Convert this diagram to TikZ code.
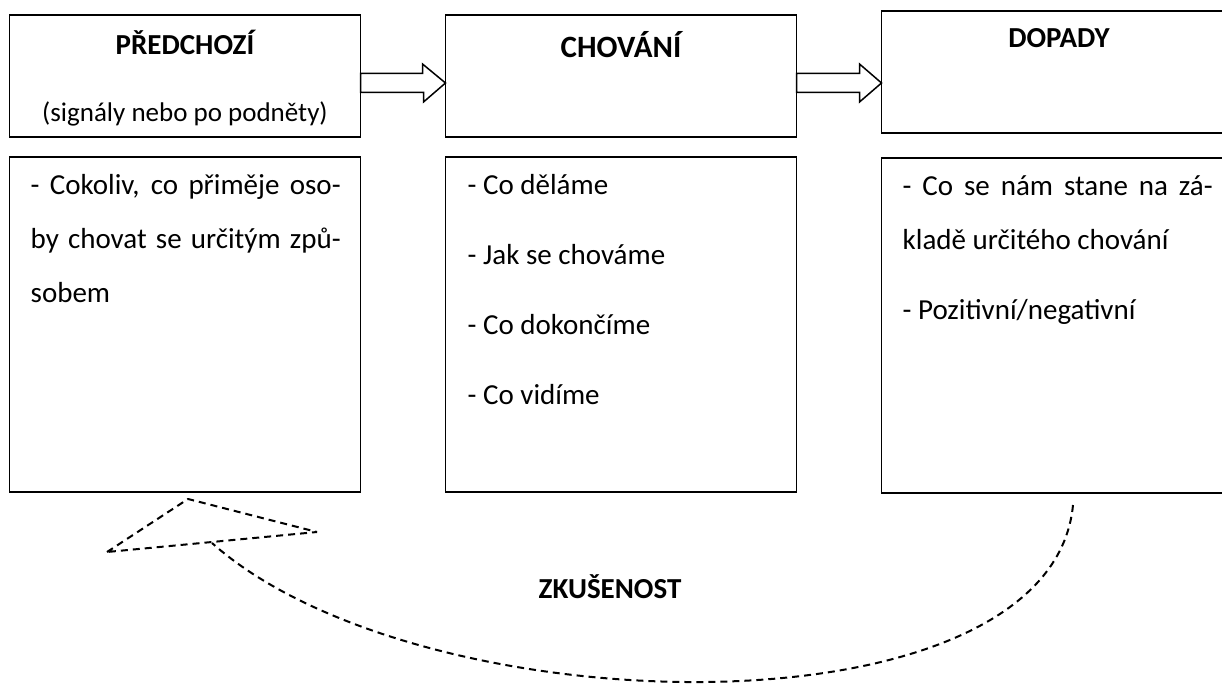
\documentclass[tikz,border=0pt]{standalone}
\usepackage{fontspec}
\setmainfont{Carlito}
\usetikzlibrary{positioning}
\tikzstyle{headbox} = [rectangle, minimum width=351pt, minimum height=122pt, inner sep=0pt, outer sep=0pt, draw=black, line width=1.7pt]
\tikzstyle{listbox} = [rectangle, minimum width=351pt, minimum height=335pt, inner sep=0pt, outer sep=0pt, draw=black, line width=1.7pt]
\tikzstyle{heading} = [font=\fontsize{29}{35}\selectfont\bfseries, inner sep=0pt, anchor=base]
\tikzstyle{subhead} = [font=\fontsize{27}{33}\selectfont, inner sep=0pt, anchor=base]
\tikzstyle{listtext} = [font=\fontsize{29}{54}\selectfont, text width=310pt, align=flush left, inner sep=0pt, anchor=north west]
\tikzstyle{hollowarrow} = [draw=black, line width=1.5pt, fill=white, line join=miter]
\tikzstyle{feedback} = [draw=black, line width=2pt, dash pattern=on 7pt off 5pt, line join=bevel]

\begin{document}
\begin{tikzpicture}[x=1pt, y=1pt, node distance=85pt]
\useasboundingbox (0,0) rectangle (1222,-684);

\node (pred) [headbox] at (185,-76) {};
\node (chov) [headbox, right=of pred] {};
\node (dop) [headbox, right=of chov, yshift=4pt] {};

\node (predlist) [listbox, below=20pt of pred] {};
\node (chovlist) [listbox, below=20pt of chov] {};
\node (doplist) [listbox, below=25pt of dop] {};

\node (predtitle) [heading] at ([yshift=-40pt]pred.north) {PŘEDCHOZÍ};
\node (predsub) [subhead] at ([yshift=-107pt]pred.north) {(signály nebo po podněty)};
\node (chovtitle) [heading, font=\fontsize{31}{37}\selectfont\bfseries] at ([yshift=-43pt]chov.north) {CHOVÁNÍ};
\node (doptitle) [heading] at ([xshift=2pt,yshift=-37pt]dop.north) {DOPADY};

\node (predtext) [listtext, align=justify] at ([xshift=21pt]predlist.north west) {\strut- Cokoliv, co přiměje oso-\linebreak by chovat se určitým způ-\linebreak sobem};
\node (chovtext) [listtext] at ([xshift=22pt]chovlist.north west) {\strut- Co děláme\\[16pt]- Jak se chováme\\[16pt]- Co dokončíme\\[16pt]- Co vidíme};
\node (doptext) [listtext, align=justify] at ([xshift=21pt]doplist.north west) {\strut- Co se nám stane na zá-\linebreak kladě určitého chování\\[16pt]- Pozitivní/negativní};

% block arrows between the top boxes
\draw [hollowarrow] ([yshift=2.5pt]pred.east) -- ++(62,0) -- ++(0,9.5) -- ([yshift=-7pt]chov.west) -- ++(-22,-19) -- ++(0,9.5) -- ([yshift=-16.5pt]pred.east) -- cycle;
\draw [hollowarrow] ([yshift=2.5pt]chov.east) -- ++(63,0) -- ++(0,9.5) -- ([yshift=-11pt]dop.west) -- ++(-22,-19) -- ++(0,9.5) -- ([yshift=-16.5pt]chov.east) -- cycle;

% feedback loop
\coordinate (expstart) at ([xshift=16pt,yshift=-12pt]doplist.south);
\coordinate (exptip) at ([xshift=3pt,yshift=-7pt]predlist.south);
\coordinate (expleft) at ([xshift=-78pt,yshift=-60pt]predlist.south);
\coordinate (expright) at ([xshift=132pt,yshift=-40pt]predlist.south);
\coordinate (expend) at ([xshift=27pt,yshift=-51pt]predlist.south);

\draw [feedback] (expstart) .. controls +(-22,-235) and +(209,-186) .. (expend);
\draw [feedback] (expleft) -- (exptip) -- (expright) -- cycle;

\node (exp) [heading] at ([xshift=-11pt,yshift=-106pt]chovlist.south) {ZKUŠENOST};

\end{tikzpicture}
\end{document}
